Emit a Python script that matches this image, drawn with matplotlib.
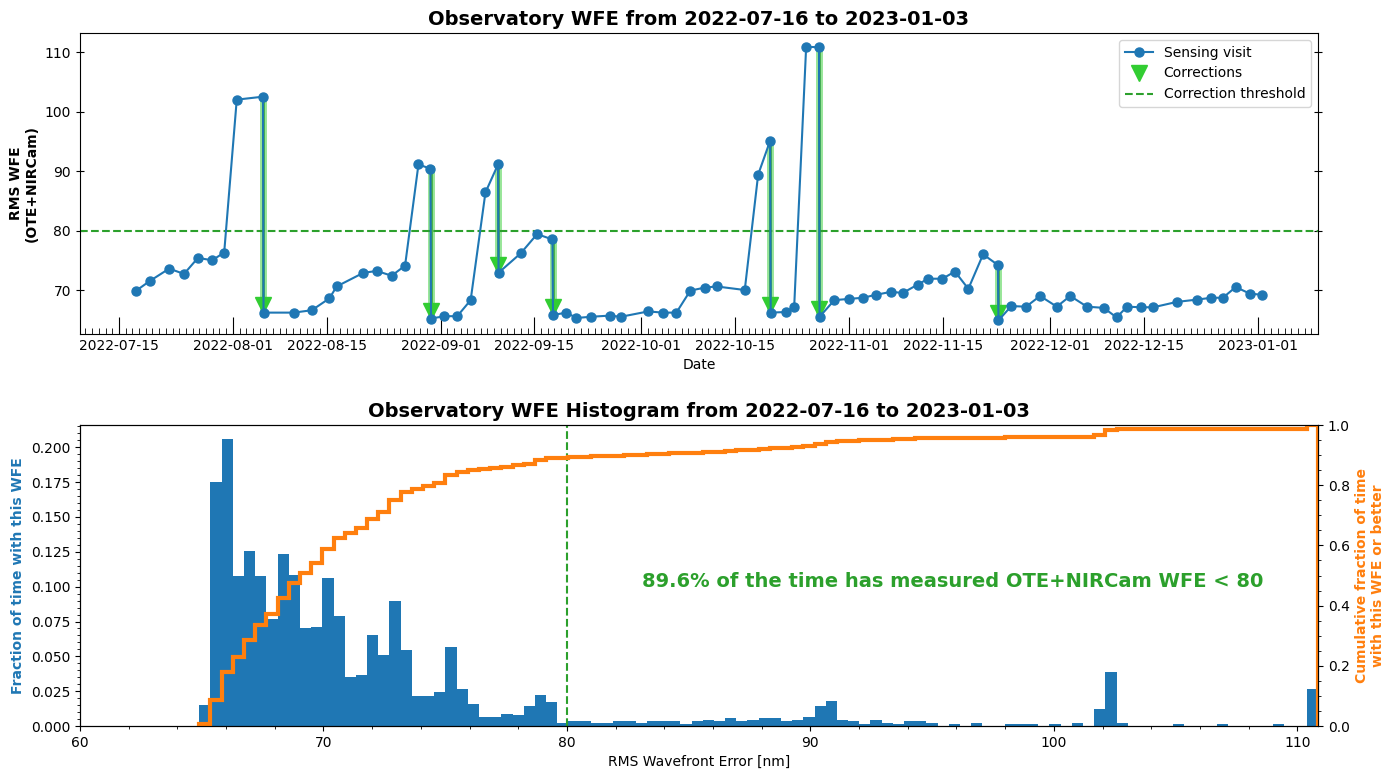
import numpy as np
import pandas as pd
import matplotlib
matplotlib.use("Agg")
import matplotlib.pyplot as plt
import matplotlib.dates as mdates
from matplotlib.ticker import MultipleLocator, AutoMinorLocator

# sensing visits (date, rms wfe in nm)
visit_dates = [
    "2022-07-17 14:00", "2022-07-19 14:00", "2022-07-22 12:00", "2022-07-24 17:00",
    "2022-07-26 19:00", "2022-07-28 22:00", "2022-07-30 17:00", "2022-08-01 14:00",
    "2022-08-05 12:00", "2022-08-05 14:00", "2022-08-10 02:00", "2022-08-12 19:00",
    "2022-08-15 10:00", "2022-08-16 12:00", "2022-08-20 12:00", "2022-08-22 12:00",
    "2022-08-24 17:00", "2022-08-26 17:00", "2022-08-28 17:00", "2022-08-30 12:00",
    "2022-08-30 14:00", "2022-09-01 14:00", "2022-09-03 12:00", "2022-09-05 12:00",
    "2022-09-07 17:00", "2022-09-09 14:00", "2022-09-09 16:00", "2022-09-13 00:00",
    "2022-09-15 10:00", "2022-09-17 17:00", "2022-09-17 19:00", "2022-09-19 19:00",
    "2022-09-21 07:00", "2022-09-23 10:00", "2022-09-26 07:00", "2022-09-27 22:00",
    "2022-10-02 00:00", "2022-10-04 05:00", "2022-10-06 05:00", "2022-10-08 07:00",
    "2022-10-10 10:00", "2022-10-12 05:00", "2022-10-16 10:00", "2022-10-18 10:00",
    "2022-10-20 05:00", "2022-10-20 07:00", "2022-10-22 12:00", "2022-10-23 19:00",
    "2022-10-25 14:00", "2022-10-27 12:00", "2022-10-27 14:00", "2022-10-29 19:00",
    "2022-10-31 22:00", "2022-11-03 02:00", "2022-11-05 00:00", "2022-11-07 07:00",
    "2022-11-09 00:00", "2022-11-11 05:00", "2022-11-12 19:00", "2022-11-14 22:00",
    "2022-11-16 19:00", "2022-11-18 19:00", "2022-11-21 00:00", "2022-11-23 05:00",
    "2022-11-23 07:00", "2022-11-25 05:00", "2022-11-27 10:00", "2022-11-29 12:00",
    "2022-12-02 00:00", "2022-12-04 00:00", "2022-12-06 12:00", "2022-12-09 00:00",
    "2022-12-10 22:00", "2022-12-12 12:00", "2022-12-14 12:00", "2022-12-16 10:00",
    "2022-12-19 22:00", "2022-12-23 00:00", "2022-12-25 02:00", "2022-12-26 19:00",
    "2022-12-28 17:00", "2022-12-30 19:00", "2023-01-01 14:00",
]
visit_wfe = [
    69.9, 71.5, 73.6, 72.7, 75.4, 75.0, 76.3, 102.0,
    102.5, 66.2, 66.2, 66.6, 68.6, 70.6, 72.9, 73.2,
    72.4, 74.1, 91.1, 90.4, 65.2, 65.6, 65.6, 68.3,
    86.4, 91.1, 72.9, 76.2, 79.4, 78.5, 65.8, 66.2,
    65.3, 65.5, 65.7, 65.5, 66.4, 66.2, 66.2, 69.9,
    70.4, 70.6, 70.0, 89.4, 95.1, 66.2, 66.3, 67.1,
    110.9, 110.8, 65.5, 68.3, 68.5, 68.7, 69.2, 69.7,
    69.5, 70.9, 71.9, 71.9, 73.1, 70.2, 76.0, 74.2,
    64.9, 67.3, 67.2, 69.0, 67.2, 69.0, 67.2, 67.0,
    65.4, 67.2, 67.1, 67.1, 68.0, 68.4, 68.7, 68.7,
    70.5, 69.4, 69.2,
]

# mirror corrections: date, wfe before, wfe after
corr_dates = ["2022-08-05 13:00", "2022-08-30 13:00", "2022-09-09 15:00",
              "2022-09-17 18:00", "2022-10-20 06:00", "2022-10-27 13:00",
              "2022-11-23 06:00"]
corr_before = [102.5, 90.4, 91.1, 78.5, 95.1, 110.8, 74.2]
corr_after = [66.2, 65.2, 72.9, 65.8, 66.2, 65.5, 64.9]

threshold = 80

# time-weighted WFE histogram (100 bins between min and max WFE)
wfe_min, wfe_max = 64.9, 110.85
hist_frac = [
    0.0151, 0.1750, 0.2057, 0.1075, 0.1254, 0.1075, 0.0767, 0.1233, 0.1082, 0.0702,
    0.0710, 0.1061, 0.0789, 0.0351, 0.0366, 0.0652, 0.0509, 0.0896, 0.0545, 0.0215,
    0.0215, 0.0244, 0.0566, 0.0265, 0.0158, 0.0067, 0.0067, 0.0086, 0.0079, 0.0143,
    0.0222, 0.0172, 0.0024, 0.0036, 0.0036, 0.0022, 0.0022, 0.0036, 0.0036, 0.0022,
    0.0036, 0.0036, 0.0036, 0.0017, 0.0036, 0.0043, 0.0036, 0.0057, 0.0036, 0.0043,
    0.0057, 0.0057, 0.0036, 0.0043, 0.0065, 0.0143, 0.0179, 0.0043, 0.0036, 0.0017,
    0.0043, 0.0022, 0.0014, 0.0036, 0.0036, 0.0022, 0.0000, 0.0014, 0.0000, 0.0022,
    0.0000, 0.0000, 0.0014, 0.0014, 0.0014, 0.0000, 0.0014, 0.0000, 0.0022, 0.0000,
    0.0122, 0.0387, 0.0022, 0.0000, 0.0000, 0.0000, 0.0000, 0.0014, 0.0000, 0.0000,
    0.0000, 0.0014, 0.0000, 0.0000, 0.0000, 0.0000, 0.0014, 0.0000, 0.0000, 0.0265,
]
frac_below = "89.6%"

visit_dates = pd.to_datetime(visit_dates)
corr_dates = pd.to_datetime(corr_dates)

fig = plt.figure(figsize=(13.96, 7.79), dpi=100)
ax = fig.add_axes([0.0573, 0.5712, 0.8868, 0.3864])
axh = fig.add_axes([0.0573, 0.068, 0.8868, 0.3864])

# --- top: time series
for d, b, a in zip(corr_dates, corr_before, corr_after):
    ax.plot([d, d], [b, a], color="limegreen", lw=5, alpha=0.5, zorder=1)
    ax.plot([d, d], [b, a], color="#2ca02c", lw=2, alpha=0.8, zorder=1)
ax.plot(visit_dates, visit_wfe, marker="o", ms=6.5, color="C0", label="Sensing visit", zorder=3)
ax.plot(corr_dates, np.array(corr_after) + 1.3, ls="none", marker="v", ms=12,
        color="limegreen", label="Corrections", zorder=2)
ax.axhline(threshold, ls="--", color="C2", label="Correction threshold")

ax.xaxis.set_major_locator(mdates.DayLocator(bymonthday=[1, 15]))
ax.xaxis.set_major_formatter(mdates.DateFormatter("%Y-%m-%d"))
ax.xaxis.set_minor_locator(mdates.DayLocator())
ax.tick_params(axis="x", which="major", direction="in", length=12)
ax.tick_params(axis="x", which="minor", direction="in", length=4)
ax.tick_params(axis="y", direction="inout", length=6, right=True)
ax.set_xlabel("Date")
ax.set_ylabel("RMS WFE\n(OTE+NIRCam)", fontweight="bold")
ax.set_title("Observatory WFE from 2022-07-16 to 2023-01-03", fontweight="bold", fontsize=14)
ax.legend(loc="upper right")

# --- bottom: histogram
edges = np.linspace(wfe_min, wfe_max, len(hist_frac) + 1)
axh.bar(edges[:-1], hist_frac, width=np.diff(edges), align="edge", color="C0")
axh.set_xlim(60, wfe_max)
axh.axvline(threshold, ls="--", color="C2")
axh.xaxis.set_minor_locator(AutoMinorLocator(5))
axh.yaxis.set_major_locator(MultipleLocator(0.025))
axh.yaxis.set_minor_locator(AutoMinorLocator(5))
axh.set_xlabel("RMS Wavefront Error [nm]")
axh.set_ylabel("Fraction of time with this WFE", color="C0", fontweight="bold")
axh.set_title("Observatory WFE Histogram from 2022-07-16 to 2023-01-03", fontweight="bold", fontsize=14)
axh.text(83.1, 0.104, f"{frac_below} of the time has measured OTE+NIRCam WFE < {threshold}",
         color="C2", fontweight="bold", fontsize=14, va="center")

ax2 = axh.twinx()
cum = np.cumsum(hist_frac) / np.sum(hist_frac)
ax2.stairs(cum, edges, color="C1", lw=3, baseline=0)
ax2.set_ylim(0, 1)
ax2.yaxis.set_minor_locator(AutoMinorLocator(4))
ax2.set_ylabel("Cumulative fraction of time\nwith this WFE or better", color="C1", fontweight="bold")

fig.savefig("out.png", dpi=100)
